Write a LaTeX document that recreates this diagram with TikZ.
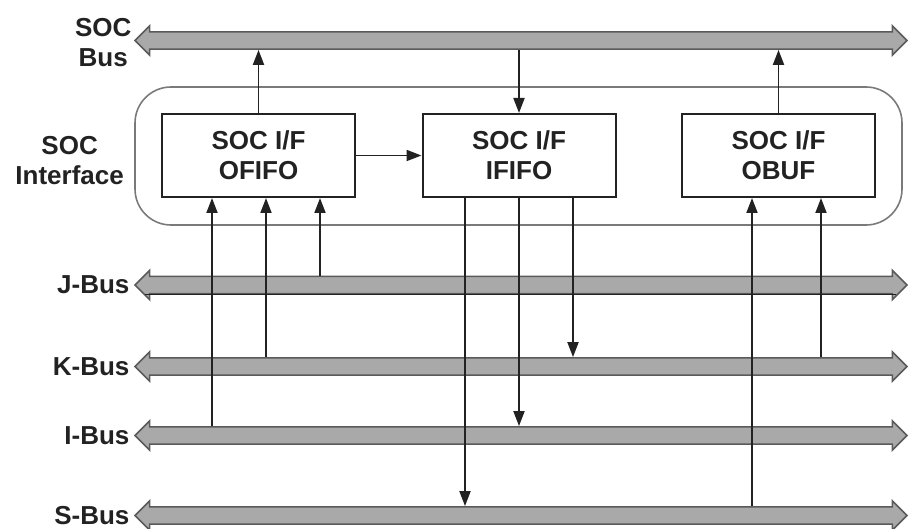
\documentclass[tikz,border=0pt]{standalone}
\usepackage{fontspec}
\setmainfont{Liberation Sans}
\usetikzlibrary{arrows.meta,shapes.arrows,positioning}
\definecolor{BusFill}{HTML}{A8A9A8}
\definecolor{BusEdge}{HTML}{5A5A5A}
\definecolor{FrameLine}{HTML}{7A7A7A}
\definecolor{InkDark}{HTML}{222222}

\begin{document}
\begin{tikzpicture}[
	x=0.5pt, y=-0.5pt, % one unit is one pixel of the 909x529 picture
	% Style for the fat double-headed bus bars
	bus/.style={
		double arrow,
		draw=BusEdge,
		fill=BusFill,
		line width=0.8pt,
		inner xsep=0pt,
		inner ysep=3.9pt,
		minimum height=386pt,
		double arrow head extend=3pt
	},
	% Style for the bus names at the left end
	bus label/.style={
		text=InkDark,
		font=\fontsize{13pt}{15pt}\selectfont\bfseries,
		align=center,
		inner sep=2pt
	},
	% Style for the three SOC I/F blocks
	block/.style={
		draw=InkDark,
		fill=white,
		line width=1pt,
		minimum width=96.5pt,
		minimum height=41.5pt,
		text=InkDark,
		font=\fontsize{13pt}{15pt}\selectfont\bfseries,
		align=center
	},
	% Style for the rounded interface frame
	frame/.style={
		draw=FrameLine,
		line width=0.8pt,
		rounded corners=18pt,
		minimum width=383.5pt,
		minimum height=69pt
	},
	% Style for the thin signal arrows
	sig/.style={
		draw=InkDark,
		line width=0.95pt,
		-{Triangle[length=7.5pt,width=5.5pt]}
	}
	]
	\useasboundingbox (0,0) rectangle (909,529);
	
	% ================= NODES =================
	\node[frame] (iface) at (518.5,156) {};
	
	\node[bus] (socbus) at (521,40.5)  {};
	\node[bus] (jbus)   at (521,285)   {};
	\node[bus] (kbus)   at (521,366.5) {};
	\node[bus] (ibus)   at (521,435.5) {};
	\node[bus] (sbus)   at (521,515.5) {};
	
	\node[bus label, left=0pt of socbus, inner sep=1pt, yshift=-1pt] (socbuslbl) {SOC\\Bus};
	\node[bus label, left=3pt of iface, yshift=-2.5pt] (ifacelbl) {SOC\\Interface};
	\node[bus label, left=0pt of jbus] (jbuslbl) {J-Bus};
	\node[bus label, left=0pt of kbus] (kbuslbl) {K-Bus};
	\node[bus label, left=0pt of ibus] (ibuslbl) {I-Bus};
	\node[bus label, left=0pt of sbus] (sbuslbl) {S-Bus};
	
	\node[block] (ofifo) at (258.5,155.5) {SOC I/F\\OFIFO};
	\node[block] (ififo) at (519,155.5)   {SOC I/F\\IFIFO};
	\node[block] (obuf)  at (778.5,155.5) {SOC I/F\\OBUF};
	
	% dark line along the lower edge of the J-Bus
	\draw[InkDark, line width=0.8pt] (jbus.south -| 145,0) -- (jbus.south -| 896,0);
	
	% ================= EDGES =================
	\draw[sig] (ofifo.north) -- (ofifo.north |- socbus.south);
	\draw[sig] (socbus.south -| ififo.north) -- (ififo.north);
	\draw[sig] (obuf.north) -- (obuf.north |- socbus.south);
	\draw[sig] (ofifo.east) -- (ififo.west);
	
	\draw[sig] (ibus.north -| 212,0) -- (212,0 |- ofifo.south);
	\draw[sig] (kbus.north -| 266,0) -- (266,0 |- ofifo.south);
	\draw[sig] (jbus.north -| 320,0) -- (320,0 |- ofifo.south);
	
	\draw[sig] (465,0 |- ififo.south) -- (sbus.north -| 465,0);
	\draw[sig] (519,0 |- ififo.south) -- (ibus.north -| 519,0);
	\draw[sig] (573,0 |- ififo.south) -- (kbus.north -| 573,0);
	
	\draw[sig] (sbus.north -| 752,0) -- (752,0 |- obuf.south);
	\draw[sig] (kbus.north -| 821,0) -- (821,0 |- obuf.south);
	
\end{tikzpicture}
\end{document}
